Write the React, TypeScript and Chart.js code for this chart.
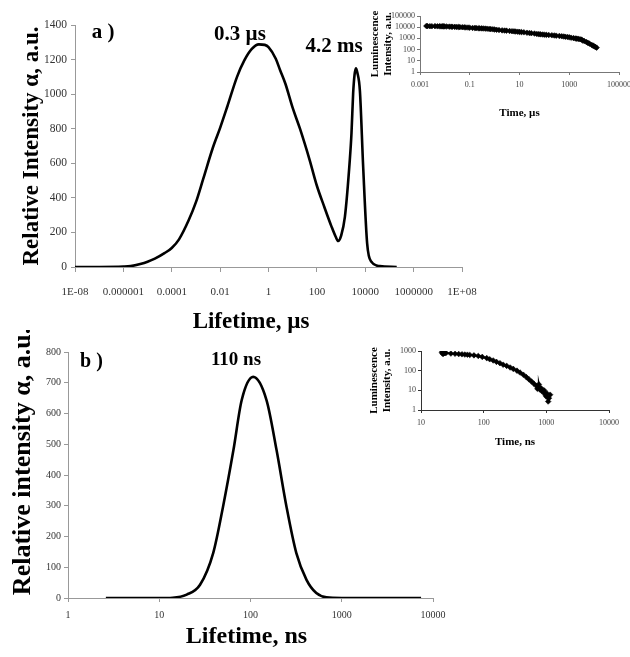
import React, { useEffect, useRef } from 'react';
import { Chart, registerables } from 'chart.js';

Chart.register(...registerables);

// ---------- Panel a: main distribution ----------
const aLifetimeUs = [1e-8, 1e-7, 1e-6, 2e-6, 5e-6, 1e-5, 2e-5, 5e-5, 1e-4, 2e-4, 5e-4, 1e-3, 2e-3, 5e-3, 0.01, 0.02, 0.05, 0.1, 0.2, 0.4, 0.7, 1, 2, 3, 5, 10, 20, 50, 100, 200, 400, 600, 760, 1000, 1440, 2300, 2700, 3160, 3600, 4100, 4700, 6000, 8200, 12000, 18000, 40000, 200000];
const aIntensity = [0, 0, 2, 5, 17, 30, 48, 80, 110, 160, 270, 375, 510, 690, 805, 930, 1100, 1195, 1260, 1288, 1285, 1272, 1205, 1140, 1060, 920, 800, 620, 470, 350, 235, 175, 150, 180, 290, 620, 775, 1005, 1110, 1150, 1125, 1020, 580, 135, 30, 5, 0];
const aXTicks = [1e-8, 1e-6, 1e-4, 1e-2, 1, 100, 1e4, 1e6, 1e8];
const aXTickLabels = ['1E-08', '0.000001', '0.0001', '0.01', '1', '100', '10000', '1000000', '1E+08'];
const aYTicks = [0, 200, 400, 600, 800, 1000, 1200, 1400];
const aYTickLabels = ['0', '200', '400', '600', '800', '1000', '1200', '1400'];

// ---------- Panel a: inset decay ----------
const aInsetTimeUs = [0.0018, 0.002, 0.0025, 0.003, 0.004, 0.005, 0.006, 0.007, 0.008, 0.009, 0.01, 0.012, 0.015, 0.018, 0.02, 0.025, 0.03, 0.035, 0.04, 0.05, 0.06, 0.07, 0.085, 0.1, 0.13, 0.16, 0.18, 0.22, 0.25, 0.3, 0.35, 0.42, 0.5, 0.6, 0.7, 0.85, 1, 1.2, 1.5, 2, 2.5, 3, 4, 5, 6, 7, 8.5, 10, 12, 15, 20, 25, 30, 40, 50, 60, 70, 85, 100, 120, 150, 200, 250, 300, 400, 500, 600, 700, 850, 1000, 1200, 1500, 1800, 2000, 2300, 2700, 3100, 3500, 4000, 4900, 5600, 6500, 8000, 9000, 10000, 11000, 12600];
const aInsetIntensity = [12800, 12500, 12300, 12200, 12400, 12000, 12100, 11800, 11900, 11900, 11700, 11500, 11200, 11100, 11000, 10800, 10500, 10400, 10200, 10000, 9800, 9500, 9300, 9000, 8600, 8400, 8300, 8000, 7900, 7800, 7700, 7500, 7300, 7000, 6800, 6500, 6200, 5900, 5600, 5200, 5000, 4900, 4600, 4400, 4250, 4100, 3950, 3800, 3650, 3500, 3200, 3050, 2900, 2700, 2500, 2400, 2300, 2220, 2150, 2080, 2000, 1900, 1820, 1750, 1650, 1550, 1480, 1400, 1320, 1250, 1150, 1050, 980, 950, 900, 850, 780, 650, 580, 470, 400, 340, 260, 230, 200, 175, 150];
const aInsetXTicks = [0.001, 0.1, 10, 1000, 100000];
const aInsetXTickLabels = ['0.001', '0.1', '10', '1000', '100000'];
const aInsetYTicks = [1, 10, 100, 1000, 10000, 100000];
const aInsetYTickLabels = ['1', '10', '100', '1000', '10000', '100000'];

// ---------- Panel b: main distribution ----------
const bLifetimeNs = [2.6, 5, 10, 14, 20, 28, 39, 50, 65, 80, 107, 150, 193, 248, 318, 411, 526, 680, 1000, 7400];
const bIntensity = [0, 0, 0, 1, 11, 43, 146, 297, 481, 643, 719, 643, 481, 297, 146, 59, 16, 2, 0, 0];
const bXTicks = [1, 10, 100, 1000, 10000];
const bXTickLabels = ['1', '10', '100', '1000', '10000'];
const bYTicks = [0, 100, 200, 300, 400, 500, 600, 700, 800];
const bYTickLabels = ['0', '100', '200', '300', '400', '500', '600', '700', '800'];

// ---------- Panel b: inset decay ----------
const bInsetTimeNs = [21.5, 22, 22.5, 23, 24, 25, 30, 35, 40, 45, 50, 55, 60, 70, 82, 95, 112, 125, 142, 160, 182, 205, 233, 265, 297, 340, 380, 430, 480, 530, 580, 630, 690, 720, 740, 760, 790, 820, 850, 890, 920, 960, 1000, 1020, 1070, 1100, 1150];
const bInsetIntensity = [870, 760, 700, 820, 780, 790, 740, 720, 700, 680, 660, 650, 630, 600, 560, 500, 435, 380, 330, 280, 240, 200, 175, 145, 123, 100, 80, 62, 47, 36, 28, 22, 17, 12, 15, 20, 11, 13, 9, 8.6, 10, 6, 4.8, 7, 2.7, 4, 6];
const bInsetXTicks = [10, 100, 1000, 10000];
const bInsetXTickLabels = ['10', '100', '1000', '10000'];
const bInsetYTicks = [1, 10, 100, 1000];
const bInsetYTickLabels = ['1', '10', '100', '1000'];

// ---------- Text ----------
const aPanelLabel = 'a )';
const aPeakLabels = ['0.3 µs', '4.2 ms'];
const aXTitle = 'Lifetime, µs';
const aYTitle = 'Relative Intensity α, a.u.';
const bPanelLabel = 'b )';
const bPeakLabel = '110 ns';
const bXTitle = 'Lifetime, ns';
const bYTitle = 'Relative intensity α, a.u.';
const insetYTitle = ['Luminescence', 'Intensity, a.u.'];
const aInsetXTitle = 'Time, µs';
const bInsetXTitle = 'Time, ns';

const FONT = "'Liberation Serif', 'Times New Roman', Times, serif";

type TextItem = { text: string; x: number; y: number; size: number; rotate?: number };

function textPlugin(items: TextItem[]) {
  return {
    id: 'overlayTexts',
    afterDraw(chart: any) {
      const ctx = chart.ctx;
      for (const it of items) {
        ctx.save();
        ctx.font = `bold ${it.size}px ${FONT}`;
        ctx.fillStyle = '#000';
        ctx.textAlign = 'center';
        ctx.textBaseline = 'middle';
        ctx.translate(it.x, it.y);
        if (it.rotate) ctx.rotate(it.rotate);
        ctx.fillText(it.text, 0, 0);
        ctx.restore();
      }
    },
  };
}

type AxisOpts = {
  type: 'linear' | 'logarithmic';
  min: number;
  max: number;
  ticks: number[];
  labels: string[];
  fontSize: number;
  tickLength: number;
  padding: number;
  size: number;
  horizontal: boolean;
  color: string;
  labelColor: string;
  title?: any;
};

function axis(o: AxisOpts) {
  return {
    type: o.type,
    min: o.min,
    max: o.max,
    afterBuildTicks: (s: any) => {
      s.ticks = o.ticks.map((v) => ({ value: v }));
    },
    afterFit: (s: any) => {
      if (o.horizontal) {
        s.height = o.size;
        s.paddingLeft = 0;
        s.paddingRight = 0;
      } else {
        s.width = o.size;
        s.paddingTop = 0;
        s.paddingBottom = 0;
      }
    },
    ticks: {
      autoSkip: false,
      maxRotation: 0,
      minRotation: 0,
      padding: o.padding,
      color: o.labelColor,
      font: { family: FONT, size: o.fontSize },
      callback: (_v: any, i: number) => o.labels[i],
    },
    grid: {
      display: true,
      drawOnChartArea: false,
      drawTicks: true,
      tickLength: o.tickLength,
      tickColor: o.color,
      color: o.color,
    },
    border: { display: true, color: o.color, width: 1 },
    title: o.title ?? { display: false },
  };
}

function pts(xs: number[], ys: number[]) {
  return xs.map((x, i) => ({ x, y: ys[i] }));
}

function baseOptions(padding: any, x: any, y: any) {
  return {
    responsive: false,
    animation: false,
    devicePixelRatio: 1,
    events: [],
    layout: { padding },
    plugins: { legend: { display: false }, tooltip: { enabled: false } },
    scales: { x, y },
  };
}

function mainDataset(xs: number[], ys: number[]) {
  return {
    data: pts(xs, ys),
    borderColor: '#000',
    borderWidth: 2.6,
    pointRadius: 0,
    cubicInterpolationMode: 'monotone',
    fill: false,
  };
}

function insetDataset(xs: number[], ys: number[]) {
  return {
    data: pts(xs, ys),
    borderColor: '#000',
    backgroundColor: '#000',
    borderWidth: 2,
    pointRadius: 2.8,
    pointStyle: 'rectRot',
    pointBorderWidth: 0.6,
    pointBackgroundColor: '#000',
    pointBorderColor: '#000',
    tension: 0,
    fill: false,
  };
}

function configMainA() {
  return {
    type: 'line',
    data: { datasets: [mainDataset(aLifetimeUs, aIntensity)] },
    options: baseOptions(
      { left: 0, top: 25, right: 18, bottom: 0 },
      axis({ type: 'logarithmic', min: 1e-8, max: 1e8, ticks: aXTicks, labels: aXTickLabels, fontSize: 11, tickLength: 5, padding: 14, size: 78, horizontal: true, color: '#999', labelColor: '#333' }),
      axis({
        type: 'linear', min: 0, max: 1400, ticks: aYTicks, labels: aYTickLabels, fontSize: 11.5, tickLength: 4, padding: 4, size: 75, horizontal: false, color: '#999', labelColor: '#333',
        title: { display: true, text: aYTitle, color: '#000', font: { family: FONT, size: 23, weight: 'bold' }, padding: { top: 18, bottom: 0 } },
      })
    ),
    plugins: [
      textPlugin([
        { text: aPanelLabel, x: 103, y: 33, size: 21 },
        { text: aPeakLabels[0], x: 240, y: 35, size: 21 },
        { text: aPeakLabels[1], x: 334, y: 46.5, size: 21 },
        { text: aXTitle, x: 251, y: 322, size: 23 },
      ]),
    ],
  };
}

function configInsetA() {
  return {
    type: 'line',
    data: { datasets: [insetDataset(aInsetTimeUs, aInsetIntensity)] },
    options: baseOptions(
      { left: 0, top: 16, right: 11, bottom: 0 },
      axis({
        type: 'logarithmic', min: 0.001, max: 100000, ticks: aInsetXTicks, labels: aInsetXTickLabels, fontSize: 8, tickLength: 3, padding: 5, size: 53, horizontal: true, color: '#777', labelColor: '#444',
        title: { display: true, text: aInsetXTitle, color: '#000', font: { family: FONT, size: 11, weight: 'bold' }, padding: { top: 0, bottom: 5.4 } },
      }),
      axis({
        type: 'logarithmic', min: 1, max: 100000, ticks: aInsetYTicks, labels: aInsetYTickLabels, fontSize: 8, tickLength: 3, padding: 2, size: 60, horizontal: false, color: '#777', labelColor: '#444',
        title: { display: true, text: insetYTitle, color: '#000', font: { family: FONT, size: 11, weight: 'bold', lineHeight: 1.2 }, padding: { top: 8.5, bottom: 0 } },
      })
    ),
  };
}

function configMainB() {
  return {
    type: 'line',
    data: { datasets: [mainDataset(bLifetimeNs, bIntensity)] },
    options: baseOptions(
      { left: 0, top: 22, right: 17, bottom: 0 },
      axis({ type: 'logarithmic', min: 1, max: 10000, ticks: bXTicks, labels: bXTickLabels, fontSize: 10, tickLength: 4, padding: 7, size: 59, horizontal: true, color: '#999', labelColor: '#333' }),
      axis({ type: 'linear', min: 0, max: 800, ticks: bYTicks, labels: bYTickLabels, fontSize: 10, tickLength: 4, padding: 3, size: 68, horizontal: false, color: '#999', labelColor: '#333' })
    ),
    plugins: [
      textPlugin([
        { text: bPanelLabel, x: 91.5, y: 32, size: 20 },
        { text: bPeakLabel, x: 236, y: 30, size: 19 },
        { text: bXTitle, x: 246.5, y: 307, size: 24 },
        { text: bYTitle, x: 23, y: 131.5, size: 26, rotate: -Math.PI / 2 },
      ]),
    ],
  };
}

function configInsetB() {
  return {
    type: 'line',
    data: { datasets: [insetDataset(bInsetTimeNs, bInsetIntensity)] },
    options: baseOptions(
      { left: 0, top: 21, right: 21, bottom: 0 },
      axis({
        type: 'logarithmic', min: 10, max: 10000, ticks: bInsetXTicks, labels: bInsetXTickLabels, fontSize: 8, tickLength: 3, padding: 5, size: 45, horizontal: true, color: '#333', labelColor: '#444',
        title: { display: true, text: bInsetXTitle, color: '#000', font: { family: FONT, size: 11, weight: 'bold' }, padding: { top: 0, bottom: 6.7 } },
      }),
      axis({
        type: 'logarithmic', min: 1, max: 1000, ticks: bInsetYTicks, labels: bInsetYTickLabels, fontSize: 8, tickLength: 3, padding: 2, size: 61, horizontal: false, color: '#333', labelColor: '#444',
        title: { display: true, text: insetYTitle, color: '#000', font: { family: FONT, size: 11, weight: 'bold', lineHeight: 1.2 }, padding: { top: 7.4, bottom: 0 } },
      })
    ),
  };
}

function ChartBox(props: { left: number; top: number; width: number; height: number; make: () => any }) {
  const ref = useRef<HTMLCanvasElement>(null);
  useEffect(() => {
    const chart = new Chart(ref.current as HTMLCanvasElement, props.make());
    return () => chart.destroy();
  }, []);
  return (
    <canvas
      ref={ref}
      width={props.width}
      height={props.height}
      style={{ position: 'absolute', left: props.left, top: props.top, width: props.width, height: props.height }}
    />
  );
}

export default function App() {
  return (
    <div style={{ position: 'absolute', left: 0, top: 0, width: 630, height: 657, background: '#fff', overflow: 'hidden' }}>
      <ChartBox left={0} top={0} width={480} height={345} make={configMainA} />
      <ChartBox left={360} top={0} width={270} height={125} make={configInsetA} />
      <ChartBox left={0} top={330} width={450} height={327} make={configMainB} />
      <ChartBox left={360} top={330} width={270} height={125} make={configInsetB} />
    </div>
  );
}
